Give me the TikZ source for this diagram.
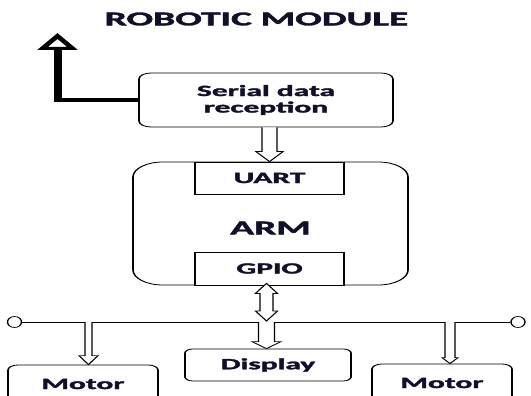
\documentclass[tikz,border=0pt]{standalone}
\usepackage{fontspec}
\setmainfont{Carlito}[BoldFeatures={FakeBold=1.6}]
\usetikzlibrary{arrows.meta,calc,shapes.geometric}
\definecolor{ink}{HTML}{10102A}
\newcommand\boxfont{\bfseries\fontsize{15.7}{16.5}\selectfont}
\newcommand\bigfont{\bfseries\fontsize{19.7}{22}\selectfont}
\tikzset{
  box/.style={draw=black, line width=0.8pt, fill=white, inner sep=0pt,
    text=ink, font=\boxfont, align=center},
  rbox/.style={box, rounded corners=#1},
  blockarrow/.style={draw=black, fill=white, line width=0.7pt, line join=miter},
  busend/.style={draw=black, line width=0.7pt, fill=white, ellipse,
    inner sep=0pt, minimum width=7pt, minimum height=11pt},
  heading/.style={text=ink, font=\bigfont, inner sep=0pt},
}
% hollow block arrow pointing down: #1 start, #2 tip, #3 half shaft, #4 half head, #5 head length
\newcommand\blockdown[5]{%
  \draw[blockarrow] let \p1=(#1), \p2=(#2) in
    (\x1-#3,\y1) -- (\x1-#3,\y2+#5) -- (\x1-#4,\y2+#5) -- (\x1,\y2)
    -- (\x1+#4,\y2+#5) -- (\x1+#3,\y2+#5) -- (\x1+#3,\y1);}
% hollow block arrow with heads at both ends: #1 top tip, #2 bottom tip
\newcommand\blockboth[5]{%
  \draw[blockarrow] let \p1=(#1), \p2=(#2) in
    (\x1,\y1) -- (\x1+#4,\y1-#5) -- (\x1+#3,\y1-#5) -- (\x1+#3,\y2+#5)
    -- (\x1+#4,\y2+#5) -- (\x1,\y2) -- (\x1-#4,\y2+#5) -- (\x1-#3,\y2+#5)
    -- (\x1-#3,\y1-#5) -- (\x1-#4,\y1-#5) -- cycle;}
\begin{document}
\begin{tikzpicture}[x=1pt, y=-1pt]
\useasboundingbox (0,0) rectangle (531,396);
\clip (0,0) rectangle (531,396);
\begin{scope}[transform canvas={xscale=2}]
  % title
  \node[heading] (title) at (128.25,19) {ROBOTIC MODULE};

  % serial receiver
  \node[rbox=6pt, minimum width=127pt, minimum height=54pt] (serial) at (133,100)
    {Serial data\\reception};

  % controller with its two ports
  \node[rbox=15pt, minimum width=137.5pt, minimum height=123pt] (arm) at (135.25,223.5) {};
  \node[box, minimum width=74.5pt, minimum height=32pt] (uart) at (134.75,178) {UART};
  \node[box, minimum width=74.5pt, minimum height=33pt] (gpio) at (134.75,268.5) {GPIO};
  \node[heading] (armlabel) at (135.25,228) {ARM};

  % peripherals
  \node[rbox=4pt, minimum width=83pt, minimum height=32pt] (display) at (134,365) {Display};
  \node[rbox=5pt, minimum width=75pt, minimum height=38pt] (motorL) at (41.5,384) {Motor};
  \node[rbox=5pt, minimum width=70pt, minimum height=38pt] (motorR) at (221,383) {Motor};

  % bus with open terminals
  \node[busend] (endL) at (7.25,322) {};
  \node[busend] (endR) at (259,322) {};
  \draw[line width=0.7pt] (endL) -- (endR);
  \coordinate (tapL) at (44.25,322);
  \coordinate (tapM) at (133.25,322);
  \coordinate (tapR) at (225,322);

  % serial output going up
  \coordinate (uptip) at (28.75,33);
  \draw[line width=4pt, line join=miter,
        -{Triangle[open, length=17pt, width=19.5pt, line width=3pt]}]
    (serial.west) -| (uptip);

  % data paths
  \blockdown{uart.north |- serial.south}{uart.north}{3.75pt}{6.75pt}{10pt}
  \blockboth{$(tapM |- gpio.south)+(0,-2)$}{$(tapM)+(0,-1)$}{3.25pt}{5.5pt}{10pt}
  \blockdown{tapM}{tapM |- display.north}{4pt}{7.25pt}{7pt}
  \blockdown{tapL}{tapL |- motorL.north}{1.75pt}{4.75pt}{9pt}
  \blockdown{tapR}{tapR |- motorR.north}{2.5pt}{4pt}{6pt}
\end{scope}
\end{tikzpicture}
\end{document}
